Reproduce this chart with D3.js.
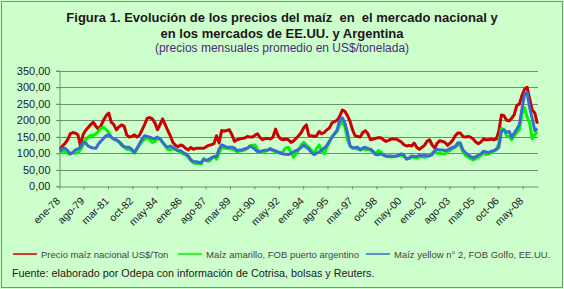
<!DOCTYPE html>
<html lang="es">
<head>
    <meta charset="UTF-8">
    <title>Figura 1 - precios del maíz</title>
    <script src="https://d3js.org/d3.v7.min.js"></script>
    <style>
        body { margin: 0; background: #ccffcc; }
        svg { display: block; font-family: Arial, "Liberation Sans", sans-serif; }
    </style>
</head>
<body>
    <div id="graph"></div>
    <script>
        // indice del mes (cada 2 meses desde ene-78)
        const meses = d3.range(0, 373, 2);

        // Precio maíz nacional US$/Ton
        const nacional = [
            112,122,130,141,159,163,161,156,122,156,169,178,187,194,182,173,184,200,214,222,
            194,187,171,180,186,182,156,149,151,156,149,155,171,187,206,208,204,192,171,187,
            204,187,169,153,133,124,120,125,122,115,110,118,112,115,115,115,
            115,120,124,126,129,153,131,169,167,169,171,156,136,141,143,145,146,151,149,149,
            155,159,147,141,145,145,143,149,173,153,143,141,143,141,133,137,145,153,163,177,
            186,153,153,151,153,166,159,163,171,177,192,196,200,212,231,227,214,197,171,153,
            151,149,163,168,159,141,143,145,147,147,141,136,139,
            143,143,143,139,134,126,122,124,122,131,118,112,118,124,136,141,125,116,131,138,
            136,133,124,131,139,153,161,161,151,149,151,149,143,134,129,134,143,141,141,143,
            141,143,167,216,214,200,198,206,217,245,249,275,294,300,265,231,222,190
        ];

        // Maíz amarillo, FOB puerto argentino
        const argentino = [
            100,108,105,100,98,102,100,102,110,125,141,149,155,153,159,166,176,179,171,163,
            149,143,139,135,129,118,112,112,108,100,112,125,136,143,146,141,133,136,143,145,
            133,122,112,110,114,112,108,102,98,95,88,78,71,69,69,67,
            84,78,76,82,90,82,100,118,115,115,114,112,110,105,107,108,110,115,122,124,
            125,110,102,104,106,110,115,107,104,102,100,106,116,118,102,88,98,110,125,133,
            125,118,108,100,114,125,108,98,118,133,151,159,166,187,194,182,141,124,116,118,
            112,112,114,110,112,110,102,95,108,104,95,90,92,
            88,90,90,92,94,90,84,84,88,88,86,88,90,88,90,94,100,104,100,100,
            98,98,105,108,114,118,126,122,104,94,88,84,80,84,88,94,100,96,98,102,
            106,110,130,176,171,153,151,141,153,163,171,220,238,210,191,143,156,166
        ];

        // Maíz yellow n° 2, FOB Golfo, EE.UU.
        const golfo = [
            105,115,115,108,98,102,110,113,118,133,131,122,118,116,115,128,137,145,153,156,
            149,143,141,135,125,120,118,118,112,102,115,129,143,153,151,149,145,145,149,143,
            133,124,118,122,118,112,108,108,102,98,92,80,75,74,73,71,
            82,78,82,86,90,90,112,125,122,118,118,118,116,108,110,110,114,115,122,118,
            112,105,105,108,109,110,112,110,107,104,100,98,97,96,100,104,108,112,118,125,
            118,112,102,96,100,104,110,116,124,137,149,159,171,200,207,192,163,122,116,116,
            118,110,116,118,114,112,106,98,95,98,95,92,90,
            92,90,92,94,98,95,82,85,92,90,90,94,92,94,92,92,96,108,112,110,
            110,108,110,114,118,120,132,131,110,102,96,90,86,90,94,98,106,104,102,106,
            108,112,118,167,171,163,166,149,161,173,187,233,278,284,238,204,169,175
        ];

        // etiquetas del eje X (cada 19 meses)
        const ticksMes = [0,19,38,57,76,95,114,133,152,171,190,209,228,247,266,285,304,323,342,361];
        const ticksTexto = ["ene-78","ago-79","mar-81","oct-82","may-84","ene-86","ago-87","mar-89","oct-90","may-92",
                            "ene-94","ago-95","mar-97","oct-98","may-00","ene-02","ago-03","mar-05","oct-06","may-08"];
        const ticksY = [0,50,100,150,200,250,300,350];

        const series = [
            { nombre: "Precio maíz nacional US$/Ton", valores: nacional, color: "#cc0000" },
            { nombre: "Maíz amarillo, FOB puerto argentino", valores: argentino, color: "#00f500" },
            { nombre: "Maíz yellow n° 2, FOB Golfo, EE.UU.", valores: golfo, color: "#3a6bd0" }
        ];

        const W = 564, H = 289;
        const svg = d3.select("#graph").append("svg")
            .attr("width", W).attr("height", H);

        svg.append("rect")
            .attr("x", 1.5).attr("y", 1.5)
            .attr("width", W - 3).attr("height", H - 3)
            .attr("fill", "#ccffcc").attr("stroke", "#6f9a6f");

        // titulo
        const titulo = svg.append("text").attr("text-anchor", "middle").attr("fill", "#1e1418");
        titulo.append("tspan").attr("x", 282).attr("y", 22)
            .attr("font-weight", "bold").attr("font-size", 13)
            .text("Figura 1. Evolución de los precios del maíz  en  el mercado nacional y")
            .style("white-space", "pre");
        titulo.append("tspan").attr("x", 282).attr("y", 38)
            .attr("font-weight", "bold").attr("font-size", 13)
            .text("en los mercados de EE.UU. y Argentina");
        svg.append("text").attr("x", 282).attr("y", 52)
            .attr("text-anchor", "middle").attr("font-size", 12).attr("fill", "#4b2a7a")
            .text("(precios mensuales promedio en US$/tonelada)");

        const x = d3.scaleLinear().domain([0, 373]).range([59.3, 538]);
        const y = d3.scaleLinear().domain([0, 350]).range([186.3, 70.7]);
        const gridColor = "#6f8f6f";

        // grilla horizontal
        svg.append("g").selectAll("line")
            .data(ticksY.filter(d => d > 0))
            .join("line")
            .attr("x1", x(0) - 3).attr("x2", x(373))
            .attr("y1", d => Math.round(y(d)) + 0.5).attr("y2", d => Math.round(y(d)) + 0.5)
            .attr("stroke", gridColor).attr("stroke-width", 1);

        // eje Y
        const fmt = d3.formatLocale({ decimal: ",", thousands: ".", grouping: [3], currency: ["", ""] }).format(".2f");
        const ejeY = svg.append("g")
            .attr("transform", `translate(${Math.round(x(0)) + 0.5},0)`)
            .call(d3.axisLeft(y).tickValues(ticksY).tickFormat(fmt).tickSize(3).tickPadding(6));
        ejeY.select(".domain").attr("stroke", gridColor);
        ejeY.selectAll(".tick line").attr("stroke", gridColor);
        ejeY.selectAll(".tick text").attr("font-size", 11).attr("fill", "#1a1a33")
            .attr("font-family", "Arial, 'Liberation Sans', sans-serif");

        // eje X
        const ejeX = svg.append("g")
            .attr("transform", `translate(0,${Math.round(y(0)) + 0.5})`)
            .call(d3.axisBottom(x).tickValues(ticksMes).tickFormat((d, i) => ticksTexto[i]).tickSize(3).tickSizeOuter(0));
        ejeX.select(".domain").attr("stroke", gridColor);
        ejeX.selectAll(".tick line").attr("stroke", gridColor);
        ejeX.selectAll(".tick text")
            .attr("font-size", 10.5).attr("fill", "#1a1a1a")
            .attr("font-family", "Arial, 'Liberation Sans', sans-serif")
            .attr("text-anchor", "end")
            .attr("dy", null)
            .attr("transform", "translate(1,15) rotate(-45)")
            .attr("y", 0).attr("x", 0);

        // lineas
        const linea = d3.line()
            .x((d, i) => x(meses[i] + 0.5))
            .y(d => y(d));
        svg.append("g").selectAll("path")
            .data(series)
            .join("path")
            .attr("d", d => linea(d.valores))
            .attr("fill", "none")
            .attr("stroke", d => d.color)
            .attr("stroke-width", 3)
            .attr("stroke-linejoin", "round");

        // leyenda
        const leyX = [13, 178, 366];
        const ley = svg.append("g").selectAll("g")
            .data(series)
            .join("g")
            .attr("transform", (d, i) => `translate(${leyX[i]},254)`);
        ley.append("line")
            .attr("x1", 0).attr("x2", 24)
            .attr("stroke", d => d.color).attr("stroke-width", 1.5);
        ley.append("text")
            .attr("x", 28).attr("y", 3.5)
            .attr("font-size", 9.5).attr("fill", "#444")
            .text(d => d.nombre);

        // fuente
        svg.append("text").attr("x", 12).attr("y", 277)
            .attr("font-size", 10.8).attr("fill", "#1a1a1a")
            .text("Fuente: elaborado por Odepa con información de Cotrisa, bolsas y Reuters.");
    </script>
</body>
</html>
